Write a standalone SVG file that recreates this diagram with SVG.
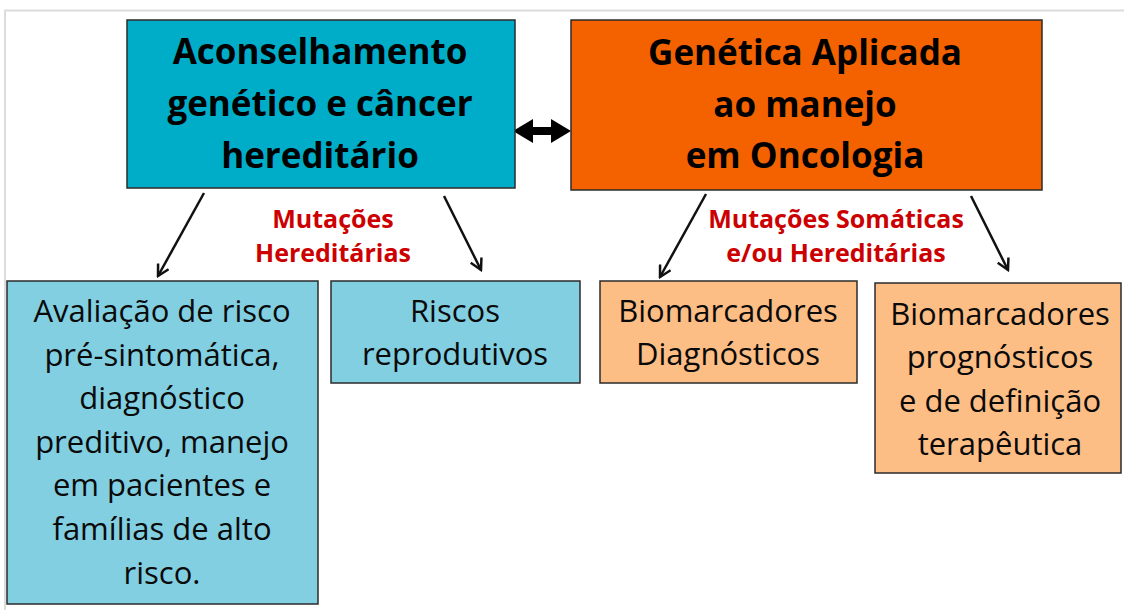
<svg xmlns="http://www.w3.org/2000/svg" width="1124" height="610" viewBox="0 0 1124 610">
<defs>
<style>
.box{stroke:#2b2b2b;stroke-width:1.5}
.title{font-family:"Open Sans","Liberation Sans",sans-serif;font-weight:bold;font-size:35px;fill:#000;text-anchor:middle}
.body{font-family:"Open Sans","Liberation Sans",sans-serif;font-size:31px;fill:#0a0a0a;text-anchor:middle}
.red{font-family:"Open Sans","Liberation Sans",sans-serif;font-weight:bold;font-size:25px;fill:#CC0000;text-anchor:middle}
.conn{stroke:#111;stroke-width:2.5;fill:none;marker-end:url(#ah)}
</style>
<marker id="ah" viewBox="0 0 14 14" refX="12" refY="7" markerWidth="14" markerHeight="14" markerUnits="userSpaceOnUse" orient="auto">
<polyline points="1,1 12,7 1,13" fill="none" stroke="#111" stroke-width="2.5"/>
</marker>
</defs>
<rect width="1124" height="610" fill="#fff"/>
<path d="M5,610 V10.5 H1124" fill="none" stroke="#dcdcdc" stroke-width="2"/>

<g id="connectors">
<line class="conn" x1="204" y1="193" x2="158" y2="276"/>
<line class="conn" x1="444" y1="196" x2="481" y2="270"/>
<line class="conn" x1="706" y1="194" x2="660" y2="277"/>
<line class="conn" x1="971" y1="196" x2="1008" y2="270"/>
<polygon points="513,131 533,119 533,127 551,127 551,119 571,131 551,143 551,135 533,135 533,143" fill="#000"/>
</g>

<g id="node-aconselhamento">
<rect class="box" x="127" y="20" width="388" height="168" fill="#00ADC9"/>
<text class="title" x="320" y="64">Aconselhamento</text>
<text class="title" x="320" y="116">genético e câncer</text>
<text class="title" x="320" y="168">hereditário</text>
</g>

<g id="node-genetica">
<rect class="box" x="571" y="20" width="471" height="170" fill="#F46200"/>
<text class="title" x="805" y="65">Genética Aplicada</text>
<text class="title" x="805" y="117">ao manejo</text>
<text class="title" x="805" y="168">em Oncologia</text>
</g>

<g id="label-hereditarias">
<text class="red" x="333" y="228">Mutações</text>
<text class="red" x="333" y="262">Hereditárias</text>
</g>

<g id="label-somaticas">
<text class="red" x="836" y="228">Mutações Somáticas</text>
<text class="red" x="836" y="262">e/ou Hereditárias</text>
</g>

<g id="node-avaliacao">
<rect class="box" x="7" y="281" width="311" height="323" fill="#82CFE2"/>
<text class="body" x="162" y="322">Avaliação de risco</text>
<text class="body" x="162" y="366">pré-sintomática,</text>
<text class="body" x="162" y="409">diagnóstico</text>
<text class="body" x="162" y="453">preditivo, manejo</text>
<text class="body" x="162" y="496">em pacientes e</text>
<text class="body" x="162" y="540">famílias de alto</text>
<text class="body" x="162" y="584">risco.</text>
</g>

<g id="node-riscos">
<rect class="box" x="331" y="281" width="249" height="102" fill="#82CFE2"/>
<text class="body" x="455" y="322">Riscos</text>
<text class="body" x="455" y="365">reprodutivos</text>
</g>

<g id="node-biodiag">
<rect class="box" x="600" y="281" width="257" height="102" fill="#FDBE86"/>
<text class="body" x="728" y="322">Biomarcadores</text>
<text class="body" x="728" y="365">Diagnósticos</text>
</g>

<g id="node-bioprog">
<rect class="box" x="875" y="283" width="246" height="190" fill="#FDBE86"/>
<text class="body" x="1000" y="325">Biomarcadores</text>
<text class="body" x="1000" y="368">prognósticos</text>
<text class="body" x="1000" y="412">e de definição</text>
<text class="body" x="1000" y="455">terapêutica</text>
</g>
</svg>
